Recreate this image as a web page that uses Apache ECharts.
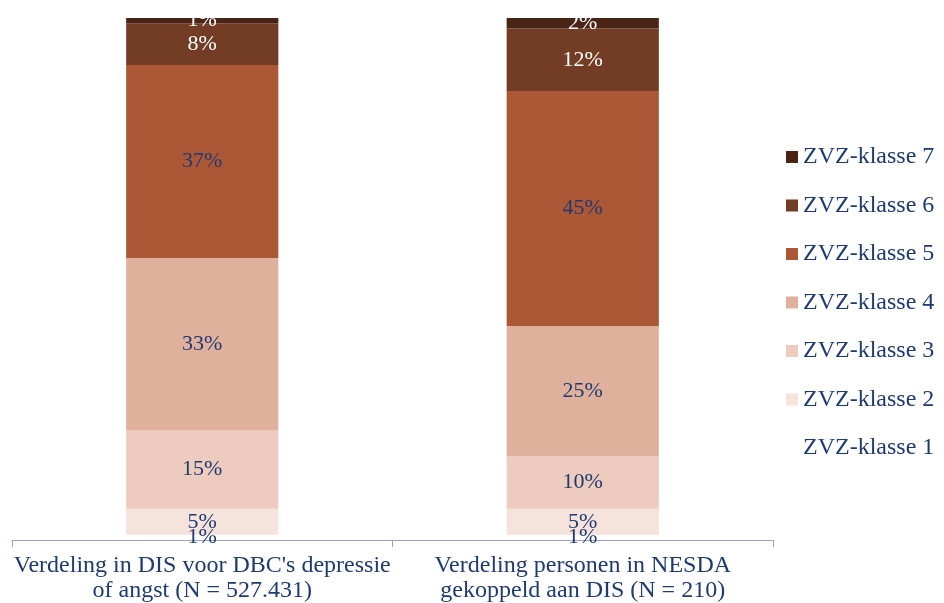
<!DOCTYPE html>
<html><head><meta charset="utf-8">
<script src="https://cdn.jsdelivr.net/npm/echarts@6/dist/echarts.min.js"></script>
<style>html,body{margin:0;padding:0;background:#fff}#c{width:944px;height:603px}</style>
</head><body><div id="c"></div>
<script>
const categories = ["Verdeling in DIS voor DBC's depressie\nof angst (N = 527.431)", "Verdeling personen in NESDA\ngekoppeld aan DIS (N = 210)"];
const seriesNames = ['ZVZ-klasse 1','ZVZ-klasse 2','ZVZ-klasse 3','ZVZ-klasse 4','ZVZ-klasse 5','ZVZ-klasse 6','ZVZ-klasse 7'];
const klasse1 = [1, 1];
const klasse2 = [5, 5];
const klasse3 = [15, 10];
const klasse4 = [33, 25];
const klasse5 = [37, 45];
const klasse6 = [8, 12];
const klasse7 = [1, 2];
const values = [klasse1, klasse2, klasse3, klasse4, klasse5, klasse6, klasse7];
const colors = ['#FFFFFF','#F5E3DC','#EDCBBE','#DFB19D','#AC5837','#733C24','#4A2416'];
const labelColors = ['#1F3A70','#1F3A70','#1F3A70','#1F3A70','#1F3A70','#FFFFFF','#FFFFFF'];
const navy = '#1F3A70';
const font = 'Liberation Serif';

const chart = echarts.init(document.getElementById('c'));
chart.setOption({
  animation: false,
  grid: {left: 12, right: 171, top: 18, bottom: 61},
  legend: {
    orient: 'vertical', left: 781, top: 140,
    data: seriesNames.slice().reverse(),
    itemWidth: 12, itemHeight: 12, itemGap: 24.5, icon: 'rect',
    textStyle: {color: navy, fontFamily: font, fontSize: 24, lineHeight: 24}
  },
  xAxis: {
    type: 'category', data: categories,
    axisLine: {lineStyle: {color: '#9AA3C4'}},
    axisTick: {show: true, interval: 0, length: 7, lineStyle: {color: '#9AA3C4'}},
    axisLabel: {interval: 0, color: navy, fontFamily: font, fontSize: 24, lineHeight: 25, margin: 13}
  },
  yAxis: {type: 'value', min: 0, max: 100, show: false, splitLine: {show: false}},
  series: seriesNames.map((n, i) => ({
    name: n, type: 'bar', stack: 'a', data: values[i],
    barCategoryGap: '60%',
    itemStyle: {color: colors[i]},
    label: {show: true, position: 'inside', formatter: '{c}%', color: labelColors[i], fontFamily: font, fontSize: 22}
  }))
});
</script></body></html>
